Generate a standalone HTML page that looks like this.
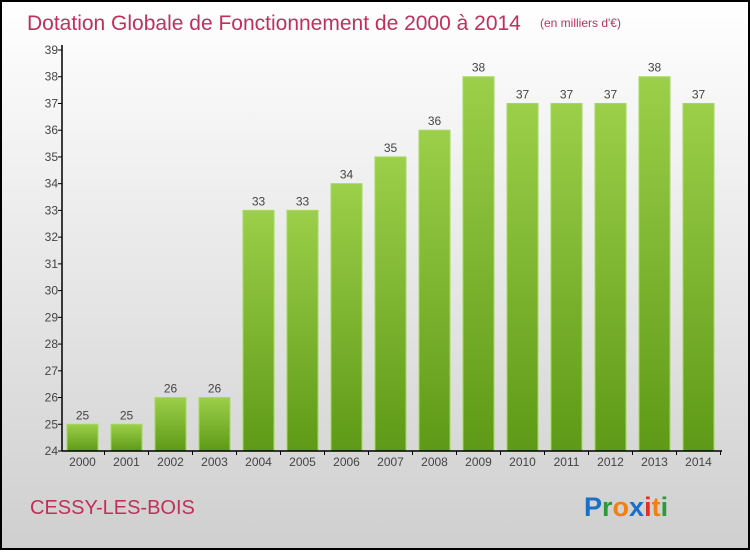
<!DOCTYPE html>
<html><head><meta charset="utf-8"><style>
html,body{margin:0;padding:0}
body{width:750px;height:550px;overflow:hidden;font-family:"Liberation Sans",sans-serif}
</style></head><body>
<svg id="chart" width="750" height="550" xmlns="http://www.w3.org/2000/svg">
<defs>
<linearGradient id="bg" x1="0" y1="0" x2="0" y2="1"><stop offset="0" stop-color="#ffffff"/><stop offset="1" stop-color="#cfcfcf"/></linearGradient>
<linearGradient id="bar" x1="0" y1="0" x2="0" y2="1"><stop offset="0" stop-color="#9ccf4a"/><stop offset="1" stop-color="#5e9a17"/></linearGradient>
</defs>
<rect x="1" y="1" width="748" height="548" fill="url(#bg)" stroke="#000" stroke-width="2"/>
<text x="27" y="30" font-size="21" fill="#c0305a">Dotation Globale de Fonctionnement de 2000 à 2014</text>
<text x="540" y="27" font-size="12" fill="#c0305a">(en milliers d'€)</text>
<g id="plot"></g>
<text x="30" y="514" font-size="20" fill="#c0305a">CESSY-LES-BOIS</text>
<text x="584" y="516" font-size="27" font-weight="bold" font-family="Liberation Sans, sans-serif"><tspan fill="#1a6fcc">P</tspan><tspan fill="#2a9a3a">r</tspan><tspan fill="#f08010">o</tspan><tspan fill="#1a6fcc">x</tspan><tspan fill="#e03020">i</tspan><tspan fill="#f08010">t</tspan><tspan fill="#2a9a3a">i</tspan></text>
</svg>
<script>
const categories=["2000","2001","2002","2003","2004","2005","2006","2007","2008","2009","2010","2011","2012","2013","2014"];
const values=[25,25,26,26,33,33,34,35,36,38,37,37,37,38,37];
const yTicks=[24,25,26,27,28,29,30,31,32,33,34,35,36,37,38,39];
const NS="http://www.w3.org/2000/svg";
const g=document.getElementById('plot');
const x0=62,x1=722,yTop=50,yBot=451,yMin=24,yMax=39;
const step=44,bw=31;
const y=v=>yBot-(v-yMin)/(yMax-yMin)*(yBot-yTop);
const xc=i=>x0+20.5+step*i;
function mk(t,a){const e=document.createElementNS(NS,t);for(const k in a)e.setAttribute(k,a[k]);g.appendChild(e);return e;}
yTicks.forEach(t=>{
 const l=mk('line',{x1:x0-4,x2:x0,y1:y(t),y2:y(t),stroke:'#000'});
 
 
 const tx=mk('text',{x:x0-4,y:y(t)+4,'text-anchor':'end','font-size':12,fill:'#444'});
 tx.textContent=t;
 
 
});
values.forEach((v,i)=>{
 const r=mk('rect',{x:xc(i)-bw/2,y:y(v),width:bw,height:yBot-y(v),fill:'url(#bar)',stroke:'#a6d860','stroke-width':1});
 
 
 const t=mk('text',{x:xc(i),y:y(v)-5,'text-anchor':'middle','font-size':12,fill:'#444'});
 t.textContent=v;
 
 
 const c=mk('text',{x:xc(i),y:yBot+15,'text-anchor':'middle','font-size':12,fill:'#444'});
 c.textContent=categories[i];
 
 
 const tk=mk('line',{x1:xc(i)+22,x2:xc(i)+22,y1:yBot,y2:yBot+4,stroke:'#000'});
 
 
});
const ya=mk('line',{x1:x0,x2:x0,y1:yTop-5,y2:yBot,stroke:'#000','stroke-width':1.5});


const xa=mk('line',{x1:x0,x2:x1,y1:yBot,y2:yBot,stroke:'#000','stroke-width':1.5});


</script>
</body></html>
